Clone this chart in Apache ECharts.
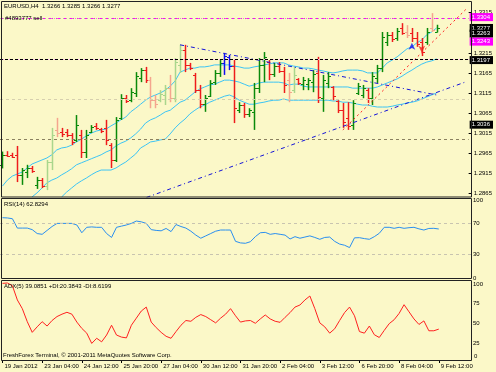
<!DOCTYPE html>
<html><head><meta charset="utf-8">
<script src="https://cdn.jsdelivr.net/npm/echarts@6/dist/echarts.min.js"></script>
<style>html,body{margin:0;padding:0;background:#fbf8c8}#c{width:496px;height:372px}</style>
</head><body><div id="c"></div>
<script>
// ---------- DATA ----------
const timeLabels = ['19 Jan 2012','23 Jan 04:00','24 Jan 12:00','25 Jan 20:00','27 Jan 04:00','30 Jan 12:00','31 Jan 20:00','2 Feb 04:00','3 Feb 12:00','6 Feb 20:00','8 Feb 04:00','9 Feb 12:00'];
const opens = [1.2936,1.2961,1.2961,1.2961,1.2911,1.2918,1.2928,1.2886,1.2898,1.2883,
1.2943,1.3023,1.3018,1.3018,1.3010,1.2998,1.3010,1.2968,1.3018,1.3033,
1.3025,1.3028,1.2985,1.2948,1.3053,1.3102,1.3097,1.3115,1.3152,1.3172,
1.3147,1.3097,1.3097,1.3110,1.3127,1.3102,1.3185,1.3222,1.3185,1.3160,
1.3122,1.3087,1.3107,1.3142,1.3165,1.3190,1.3205,1.3182,1.3072,1.3085,
1.3063,1.3068,1.3127,1.3185,1.3192,1.3162,1.3182,1.3170,1.3147,1.3122,
1.3150,1.3137,1.3137,1.3142,1.3165,1.3102,1.3140,1.3130,1.3095,1.3072,
1.3053,1.3035,1.3115,1.3110,1.3122,1.3102,1.3152,1.3177,1.3242,1.3260,
1.3252,1.3277,1.3267,1.3264,1.3252,1.3242,1.3242,1.3277,1.3266];
const closes = [1.2961,1.2958,1.2956,1.2911,1.2923,1.2928,1.2921,1.2898,1.2883,1.2943,
1.3010,1.3015,1.3013,1.3010,1.2993,1.3035,1.2968,1.3010,1.3030,1.3028,
1.3020,1.2998,1.2948,1.3048,1.3102,1.3095,1.3117,1.3157,1.3172,1.3147,
1.3097,1.3087,1.3112,1.3127,1.3102,1.3192,1.3222,1.3185,1.3177,1.3122,
1.3087,1.3102,1.3140,1.3165,1.3190,1.3207,1.3182,1.3077,1.3085,1.3063,
1.3072,1.3127,1.3185,1.3205,1.3162,1.3182,1.3170,1.3135,1.3117,1.3160,
1.3140,1.3147,1.3147,1.3162,1.3105,1.3147,1.3157,1.3107,1.3072,1.3043,
1.3033,1.3090,1.3132,1.3127,1.3102,1.3157,1.3177,1.3255,1.3260,1.3250,
1.3269,1.3264,1.3260,1.3252,1.3237,1.3217,1.3267,1.3272,1.3277];
const lows = [1.2927,1.2956,1.2953,1.2893,1.2886,1.2903,1.2916,1.2876,1.2878,1.2873,
1.2923,1.3005,1.3005,1.3005,1.2985,1.2993,1.2953,1.2953,1.3015,1.3023,
1.3015,1.2985,1.2928,1.2943,1.3048,1.3090,1.3092,1.3105,1.3142,1.3140,
1.3077,1.3077,1.3092,1.3085,1.3092,1.3092,1.3165,1.3167,1.3172,1.3115,
1.3077,1.3068,1.3105,1.3135,1.3155,1.3160,1.3172,1.3040,1.3065,1.3053,
1.3055,1.3023,1.3115,1.3142,1.3147,1.3155,1.3165,1.3115,1.3092,1.3115,
1.3135,1.3122,1.3122,1.3117,1.3090,1.3068,1.3127,1.3097,1.3065,1.3028,
1.3023,1.3023,1.3110,1.3102,1.3090,1.3085,1.3140,1.3167,1.3232,1.3242,
1.3245,1.3260,1.3252,1.3242,1.3230,1.3207,1.3235,1.3267,1.3266];
const highs = [1.2969,1.2970,1.2966,1.2983,1.2928,1.2936,1.2933,1.2906,1.2903,1.2948,
1.3028,1.3053,1.3028,1.3025,1.3015,1.3060,1.3023,1.3023,1.3035,1.3040,
1.3028,1.3048,1.2990,1.3055,1.3112,1.3110,1.3127,1.3167,1.3177,1.3180,
1.3155,1.3110,1.3122,1.3135,1.3160,1.3202,1.3235,1.3235,1.3190,1.3165,
1.3135,1.3110,1.3147,1.3172,1.3197,1.3215,1.3210,1.3197,1.3092,1.3090,
1.3077,1.3140,1.3202,1.3217,1.3197,1.3190,1.3192,1.3180,1.3165,1.3180,
1.3152,1.3155,1.3152,1.3172,1.3205,1.3160,1.3167,1.3132,1.3097,1.3090,
1.3092,1.3097,1.3140,1.3135,1.3127,1.3167,1.3185,1.3267,1.3267,1.3267,
1.3277,1.3289,1.3284,1.3277,1.3267,1.3252,1.3277,1.3314,1.3285];
const bandUpper = [1.2883,1.2898,1.2908,1.2913,1.2918,1.2928,1.2938,1.2943,1.2948,1.2953,
1.2961,1.2973,1.2978,1.2980,1.2985,1.2993,1.3000,1.3008,1.3015,1.3020,
1.3023,1.3025,1.3033,1.3040,1.3048,1.3055,1.3068,1.3077,1.3087,1.3097,
1.3105,1.3110,1.3115,1.3122,1.3132,1.3145,1.3167,1.3172,1.3177,1.3177,
1.3180,1.3180,1.3182,1.3185,1.3185,1.3185,1.3185,1.3182,1.3180,1.3177,
1.3177,1.3180,1.3182,1.3185,1.3187,1.3190,1.3190,1.3190,1.3185,1.3182,
1.3180,1.3177,1.3177,1.3175,1.3172,1.3170,1.3167,1.3165,1.3167,1.3170,
1.3172,1.3172,1.3172,1.3170,1.3165,1.3165,1.3165,1.3177,1.3190,1.3197,
1.3205,1.3215,1.3225,1.3230,1.3240,1.3247,1.3260,1.3267,1.3277];
const bandMiddle = [null,null,null,null,null,null,
1.2856,1.2866,1.2878,1.2891,1.2898,1.2903,1.2911,1.2918,1.2926,1.2936,
1.2941,1.2946,1.2951,1.2956,1.2961,1.2968,1.2973,1.2983,1.2990,1.2995,
1.3003,1.3013,1.3025,1.3040,1.3048,1.3053,1.3060,1.3068,1.3072,1.3082,
1.3092,1.3097,1.3107,1.3117,1.3125,1.3130,1.3135,1.3137,1.3142,1.3147,
1.3147,1.3145,1.3142,1.3137,1.3132,1.3135,1.3140,1.3142,1.3142,1.3142,
1.3142,1.3140,1.3135,1.3137,1.3137,1.3132,1.3130,1.3130,1.3130,1.3130,
1.3130,1.3130,1.3130,1.3130,1.3130,1.3127,1.3127,1.3127,1.3127,1.3127,
1.3130,1.3135,1.3140,1.3145,1.3150,1.3157,1.3165,1.3172,1.3180,1.3187,
1.3192,1.3195,1.3200];
const bandLower = [null,null,null,null,null,null,null,null,null,null,null,null,
1.2856,1.2868,1.2878,1.2888,
1.2896,1.2903,1.2911,1.2918,1.2923,1.2923,1.2923,1.2928,1.2936,1.2943,
1.2953,1.2963,1.2978,1.2985,1.2993,1.2995,1.2998,1.3000,1.3013,1.3028,
1.3040,1.3050,1.3063,1.3072,1.3080,1.3085,1.3092,1.3097,1.3102,1.3107,
1.3110,1.3105,1.3097,1.3092,1.3087,1.3087,1.3090,1.3092,1.3095,1.3097,
1.3097,1.3100,1.3097,1.3097,1.3097,1.3097,1.3097,1.3097,1.3097,1.3097,
1.3097,1.3095,1.3095,1.3092,1.3092,1.3090,1.3087,1.3085,1.3085,1.3082,
1.3080,1.3080,1.3080,1.3082,1.3085,1.3087,1.3090,1.3092,1.3095,1.3100,
1.3105,1.3110,1.3115];
const rsi = [77.3,77,76,64,64,64,62,57,56,61,
66,70,70,70,70,68,58,65,65.5,65,
65,57,52,65,66.5,68,70,73,72,70,
62,61,60.5,63.5,59.5,68.5,66,64,60,55,
51,54,57,60,61.5,61.5,61.5,47,45,44.5,
46.5,53,58,58.5,56,57,56,55,50,53,
51,52.5,54,52,49.6,52,52.5,47,43.5,42,
39,51.5,51.7,50.5,49.6,53,57.3,65,65,63.7,
65,63.7,64.5,65,63,61.5,63.5,63.7,62.83];
const adx = [97,97.5,94,76,65,48.5,35,42,48.5,43,
50,55,58,60.4,58,48,40,34,21,27.5,
23,31.6,44,31.6,29,28,44,53,62,67,
48,41,35,30,27.5,36,44,50,49,54,
57.5,55,51,47,53,58,65,56,48,49.5,
50,46.5,52,57,52,49,47.7,54,60,67,
69.6,76,81,65,47,42,34,39.5,50,60,
67,56,36,34,43,32,28.5,37.5,46,51,
59,70,61,52,45,49.5,37,37,39.09];
const priceTicks = [1.2865,1.2915,1.2965,1.3015,1.3065,1.3115,1.3165,1.3215,1.3315];
const priceLevels = [1.3304,1.3277,1.3263,1.3243,1.3197,1.3036];
const faintLevel = 1.3110;
const trendRise = [[25,1.2836],[94,1.3143]];
const trendFall = [[36,1.3235],[88,1.3110]];
const trendRed = [[69,1.3023],[94,1.3324]];
const buyMarks = [[83,1.3240]];
const sellMarks = [[85,1.3215]];
const rsiTicks = [100,70,30,0];
const rsiLevels = [70,30];
const adxTicks = [100,75,50,25];

// ---------- STYLE / BUILD ----------
const FONT = 'Liberation Sans, Arial, sans-serif';
const SLOTS = 95;
const cats = Array.from({length: SLOTS}, (_, i) => String(i));
const paleBars = [9,10,11,30,31,32,33,34,35,36,58,59,82,87];
const blueBars = [45,46];
const ohlc = opens.map((o, i) => [i, o, closes[i], lows[i], highs[i]]);
const levelLook = [
  {c:'#ff00ff', t:[4,3], bg:'#ff00ff'},
  {c:'#c0b8a0', t:[1,2], bg:'#000000'},
  {c:'#c0b8a0', t:[1,2], bg:'#000000'},
  {c:'#ffa0ff', t:[1,2], bg:'#ff00ff'},
  {c:'#000000', t:[3,2], bg:'#000000'},
  {c:'#8a8060', t:[3,3], bg:'#000000'}
];
const mlData = priceLevels.map((v, k) => ({
  yAxis: v, lineStyle: {color: levelLook[k].c, type: levelLook[k].t, width: 1}
}));
mlData.push({yAxis: faintLevel, lineStyle: {color: '#d6cfae', type: [3,3], width: 1}});
const rich = {};
levelLook.forEach((s, k) => { rich['s' + k] = {backgroundColor: s.bg, color: '#fff', fontSize: 6, fontFamily: FONT, padding: [1, 3, 1, 2]}; });

const yMin = 1.28558, yMax = 1.33442;
const txt = (text, left, top) => ({text, left, top, padding: 0,
  textStyle: {fontSize: 6, fontWeight: 'normal', color: '#000', fontFamily: FONT}});

const chart = echarts.init(document.getElementById('c'), null, {renderer: 'canvas'});
const gridX = {left: 0, right: 25};
chart.setOption({
  animation: false,
  backgroundColor: '#fbf8c8',
  title: [
    txt('EURUSD,H4  1.3266 1.3285 1.3266 1.3277', 4, 3),
    txt('#4893777 sell', 5, 15),
    txt('RSI(14) 62.8294', 4, 201),
    txt('ADX(5) 39.0851 +DI:20.3843 -DI:8.6199', 4, 283.5),
    txt('FreshForex Terminal, © 2001-2011 MetaQuotes Software Corp.', 3, 352.5)
  ],
  grid: [
    Object.assign({top: 1, height: 196}, gridX),
    Object.assign({top: 198, height: 81}, gridX),
    Object.assign({top: 280, height: 80.5}, gridX)
  ],
  xAxis: [0,1,2].map(g => ({
    type: 'category', gridIndex: g, data: cats, boundaryGap: true,
    axisLine: {show: false},
    axisTick: {show: g === 2, interval: (i) => i % 8 === 0, alignWithLabel: true, length: 3, lineStyle: {color: '#000'}},
    axisLabel: {show: g === 2, interval: (i) => i % 8 === 0, formatter: (v, i) => timeLabels[i / 8] || '',
      align: 'left', margin: 3, padding: [0,0,0,2], fontSize: 6, color: '#000', fontFamily: FONT},
    splitLine: {show: false}
  })),
  yAxis: [
    {type: 'value', gridIndex: 0, position: 'right', min: yMin, max: yMax, scale: true,
     axisLine: {show: false}, splitLine: {show: false},
     axisTick: {show: true, length: 3, customValues: priceTicks, lineStyle: {color: '#000'}},
     axisLabel: {customValues: priceTicks, formatter: v => v.toFixed(4), margin: 5, fontSize: 6, color: '#000', fontFamily: FONT}},
    {type: 'value', gridIndex: 1, position: 'right', min: -1.28, max: 102.56,
     axisLine: {show: false}, splitLine: {show: false}, axisTick: {show: false},
     axisLabel: {customValues: rsiTicks, margin: 2, fontSize: 6, color: '#000', fontFamily: FONT}},
    {type: 'value', gridIndex: 2, position: 'right', min: -0.63, max: 101.27,
     axisLine: {show: false}, splitLine: {show: false}, axisTick: {show: false},
     axisLabel: {customValues: adxTicks, margin: 2, verticalAlign: 'top', fontSize: 6, color: '#000', fontFamily: FONT}},
    {type: 'value', gridIndex: 0, position: 'right', min: yMin, max: yMax, scale: true,
     axisLine: {show: false}, splitLine: {show: false}, axisTick: {show: false},
     axisLabel: {customValues: priceLevels, margin: 1, hideOverlap: false,
       formatter: v => { const k = priceLevels.findIndex(p => Math.abs(p - v) < 1e-6); return '{s' + k + '|' + v.toFixed(4) + '}'; },
       rich: rich}}
  ],
  graphic: [
    {type: 'rect', shape: {x: 1.5, y: 1.5, width: 470, height: 195.5}, style: {fill: 'none', stroke: '#222', lineWidth: 1}, z: 100},
    {type: 'rect', shape: {x: 1.5, y: 198.5, width: 470, height: 80}, style: {fill: 'none', stroke: '#222', lineWidth: 1}, z: 100},
    {type: 'rect', shape: {x: 1.5, y: 280.5, width: 470, height: 80}, style: {fill: 'none', stroke: '#222', lineWidth: 1}, z: 100},
    {type: 'text', x: 474, y: 353, style: {text: '0', fontSize: 6, fill: '#000', fontFamily: FONT}, z: 100}
  ],
  series: [
    {type: 'line', xAxisIndex: 0, yAxisIndex: 0, data: bandUpper, symbol: 'none', lineStyle: {color: '#3cc4f4', width: 1}, z: 2},
    {type: 'line', xAxisIndex: 0, yAxisIndex: 0, data: bandMiddle, symbol: 'none', lineStyle: {color: '#3cc4f4', width: 1}, z: 2},
    {type: 'line', xAxisIndex: 0, yAxisIndex: 0, data: bandLower, symbol: 'none', lineStyle: {color: '#3cc4f4', width: 1}, z: 2},
    {type: 'custom', xAxisIndex: 0, yAxisIndex: 0, data: ohlc, encode: {x: 0, y: [1,2,3,4]}, z: 3,
     markLine: {silent: true, symbol: 'none', data: mlData, label: {show: false}, animation: false},
     renderItem: function (params, api) {
       const i = params.dataIndex;
       const x = api.value(0), o = api.value(1), c = api.value(2), l = api.value(3), h = api.value(4);
       const pH = api.coord([x, h]), pL = api.coord([x, l]), pO = api.coord([x, o]), pC = api.coord([x, c]);
       const up = c >= o;
       let col = up ? '#0a8a0a' : '#ee1c1c';
       if (paleBars.indexOf(i) >= 0) col = up ? '#a9d68c' : '#f4a58e';
       if (blueBars.indexOf(i) >= 0) col = '#1010f0';
       const cx = Math.round(pH[0]) + 0.5;
       const st = {stroke: col, lineWidth: 1.5};
       return {type: 'group', children: [
         {type: 'line', shape: {x1: cx, y1: pH[1], x2: cx, y2: pL[1]}, style: st},
         {type: 'line', shape: {x1: cx - 2.5, y1: Math.round(pO[1]) + 0.5, x2: cx, y2: Math.round(pO[1]) + 0.5}, style: {stroke: col, lineWidth: 1}},
         {type: 'line', shape: {x1: cx, y1: Math.round(pC[1]) + 0.5, x2: cx + 2.5, y2: Math.round(pC[1]) + 0.5}, style: {stroke: col, lineWidth: 1}}
       ]};
     }},
    {type: 'line', xAxisIndex: 0, yAxisIndex: 0, data: trendRise, symbol: 'none', lineStyle: {color: '#1414d8', width: 1, type: [4,3,1,3]}, z: 4},
    {type: 'line', xAxisIndex: 0, yAxisIndex: 0, data: trendFall, symbol: 'none', lineStyle: {color: '#1414d8', width: 1, type: [4,3,1,3]}, z: 4},
    {type: 'line', xAxisIndex: 0, yAxisIndex: 0, data: trendRed, symbol: 'none', lineStyle: {color: '#ff2020', width: 1, type: [2,3]}, z: 4},
    {type: 'scatter', xAxisIndex: 0, yAxisIndex: 0, data: buyMarks, symbol: 'arrow', symbolSize: [5,7], itemStyle: {color: '#1010f0'}, z: 5},
    {type: 'scatter', xAxisIndex: 0, yAxisIndex: 0, data: sellMarks, symbol: 'arrow', symbolRotate: 180, symbolSize: [5,7], itemStyle: {color: '#ee1c1c'}, z: 5},
    {type: 'line', xAxisIndex: 1, yAxisIndex: 1, data: rsi, symbol: 'none', lineStyle: {color: '#2a8ff0', width: 1},
     markLine: {silent: true, symbol: 'none', label: {show: false},
       data: rsiLevels.map(v => ({yAxis: v})), lineStyle: {color: '#c8c4b0', type: [3,3], width: 1}}},
    {type: 'line', xAxisIndex: 2, yAxisIndex: 2, data: adx, symbol: 'none', lineStyle: {color: '#ff2020', width: 1}}
  ]
});
</script></body></html>
